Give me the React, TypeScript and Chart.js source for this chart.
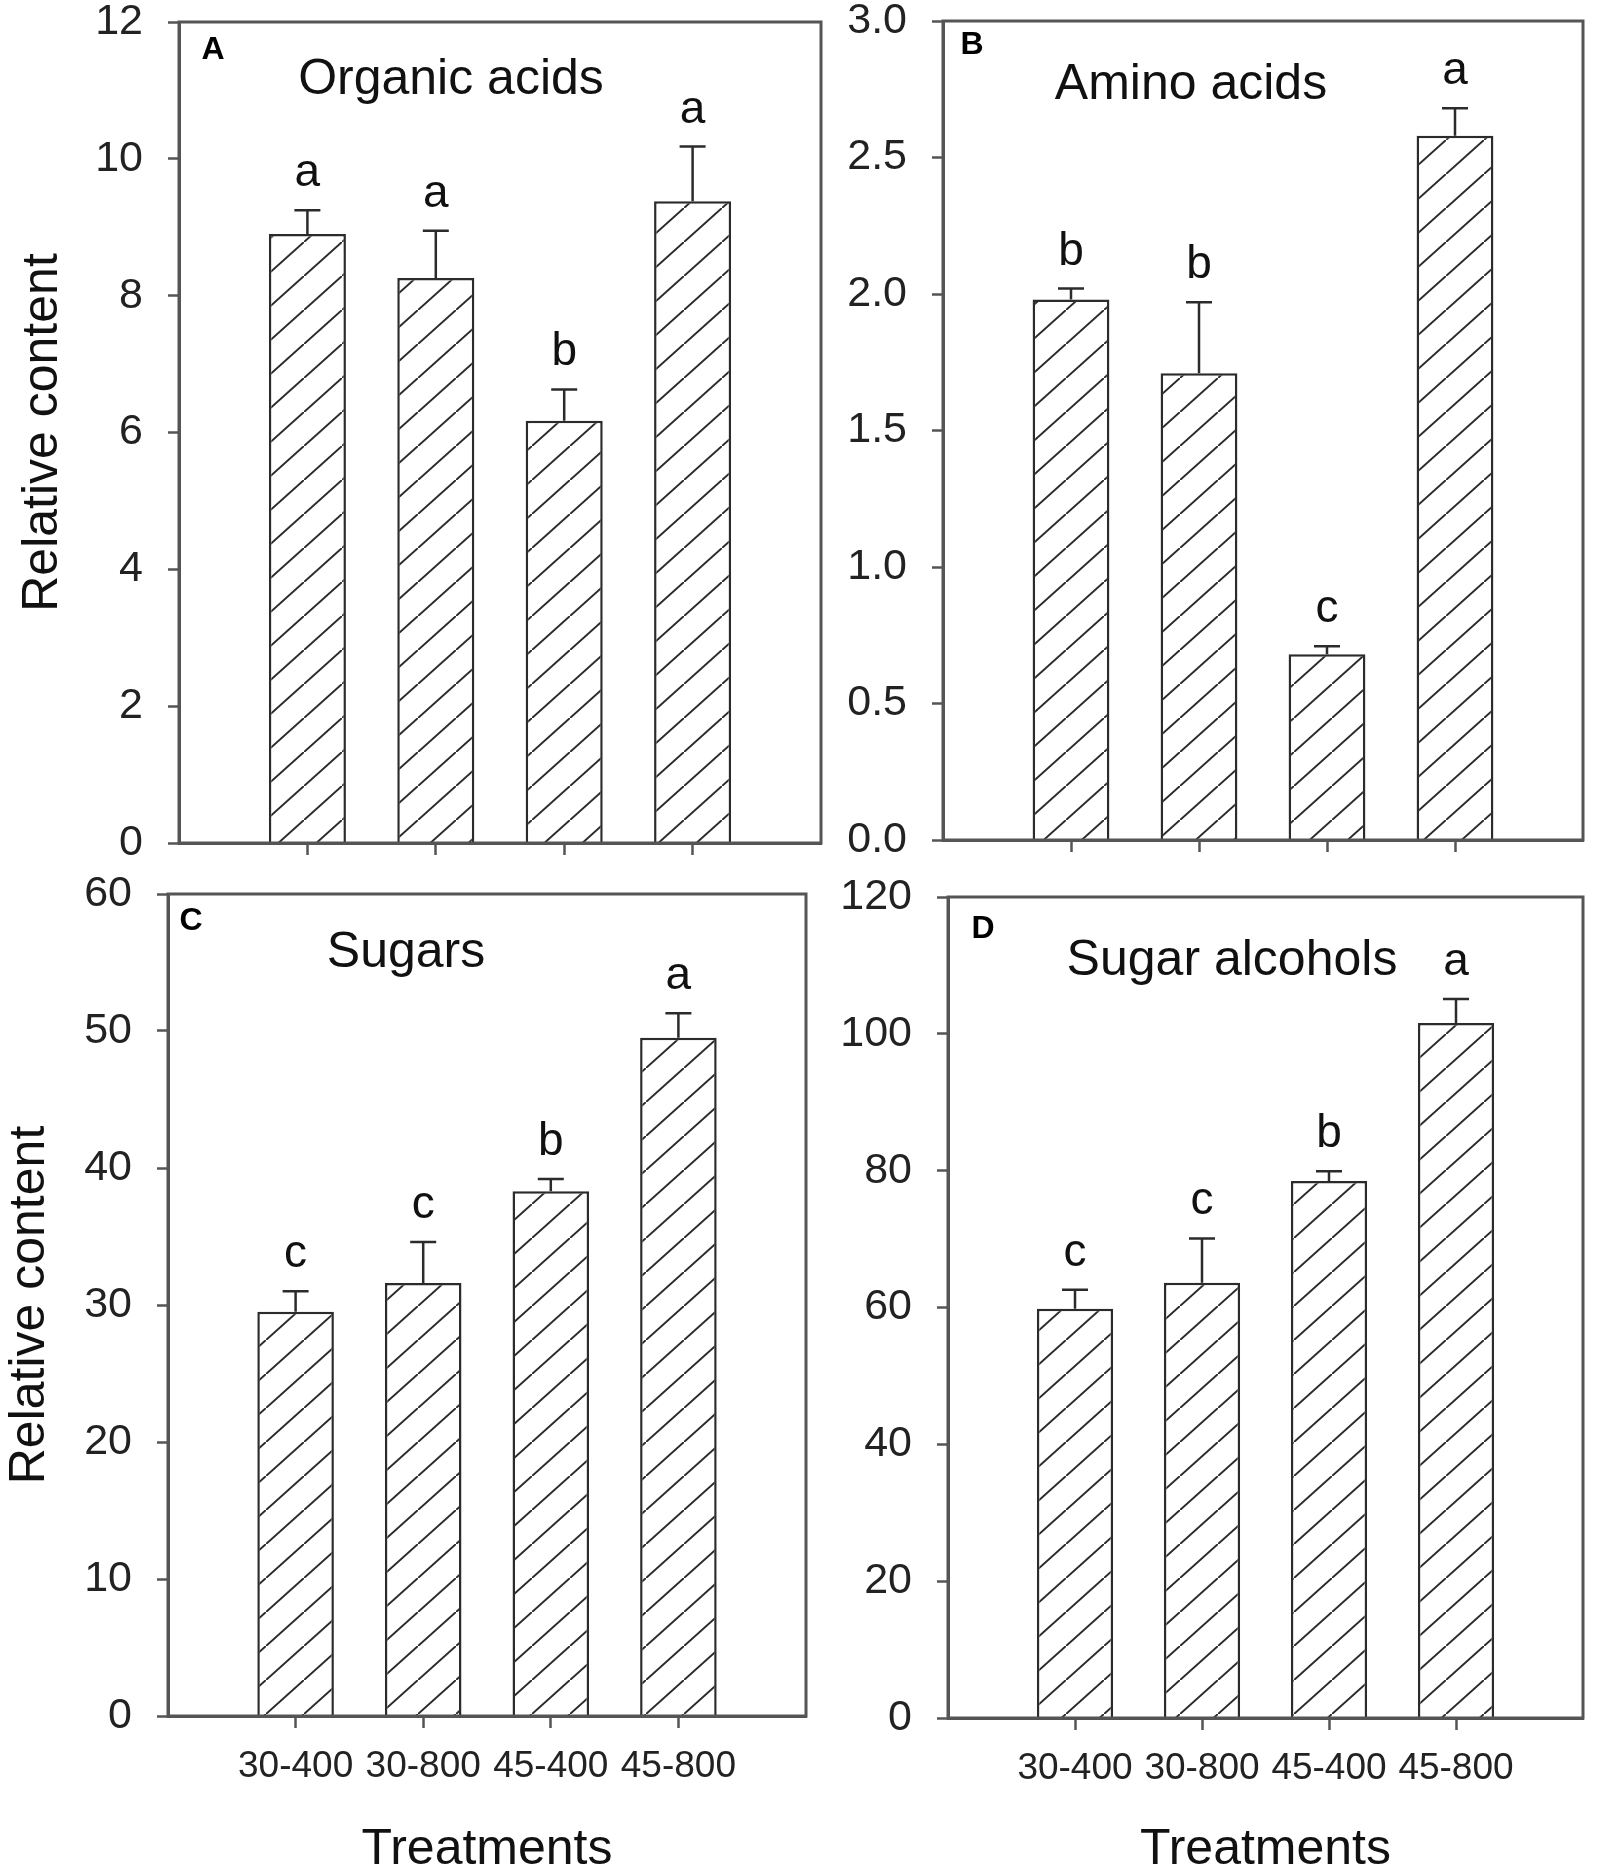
import { useEffect, useRef } from "react";
import { Chart, registerables } from "chart.js";

Chart.register(...registerables);

const FONT = "'Liberation Sans', Arial, sans-serif";
const INK = "#2b2b2b";
const AXIS = "#555555";

// treatments on the x axis
const treatments = ["30-400", "30-800", "45-400", "45-800"];

// A - organic acids
const organicAcids = [8.9, 8.26, 6.17, 9.38];
const organicAcidsSE = [0.35, 0.69, 0.46, 0.8];
const organicAcidsLetters = ["a", "a", "b", "a"];

// B - amino acids
const aminoAcids = [1.98, 1.71, 0.68, 2.58];
const aminoAcidsSE = [0.04, 0.26, 0.03, 0.1];
const aminoAcidsLetters = ["b", "b", "c", "a"];

// C - sugars
const sugars = [29.5, 31.6, 38.3, 49.5];
const sugarsSE = [1.5, 3.0, 0.9, 1.8];
const sugarsLetters = ["c", "c", "b", "a"];

// D - sugar alcohols
const sugarAlcohols = [59.8, 63.6, 78.5, 101.6];
const sugarAlcoholsSE = [2.8, 6.5, 1.4, 3.5];
const sugarAlcoholsLetters = ["c", "c", "b", "a"];

type Panel = {
  tag: string;
  title: string;
  values: number[];
  se: number[];
  letters: string[];
  yMax: number;
  yStep: number;
  decimals: number;
  xLabels: boolean;
  yTitle: boolean;
  yTitlePad: number;
  left: number;
  top: number;
  width: number;
  height: number;
  yWidth: number;
  xHeight: number;
  padTop: number;
  padRight: number;
  tagPos: [number, number];
  titlePos: [number, number];
};

// canvases start 30px above their panel so the axis label padding fits
const panels: Panel[] = [
  {
    tag: "A", title: "Organic acids",
    values: organicAcids, se: organicAcidsSE, letters: organicAcidsLetters,
    yMax: 12, yStep: 2, decimals: 0, xLabels: false, yTitle: true, yTitlePad: 18,
    left: 0, top: -30, width: 850, height: 923,
    yWidth: 179, xHeight: 50, padTop: 52, padRight: 29,
    tagPos: [34, 28], titlePos: [272, 58],
  },
  {
    tag: "B", title: "Amino acids",
    values: aminoAcids, se: aminoAcidsSE, letters: aminoAcidsLetters,
    yMax: 3, yStep: 0.5, decimals: 1, xLabels: false, yTitle: false, yTitlePad: 0,
    left: 800, top: -30, width: 800, height: 920,
    yWidth: 143, xHeight: 50, padTop: 51, padRight: 11,
    tagPos: [29, 24], titlePos: [248, 64],
  },
  {
    tag: "C", title: "Sugars",
    values: sugars, se: sugarsSE, letters: sugarsLetters,
    yMax: 60, yStep: 10, decimals: 0, xLabels: true, yTitle: true, yTitlePad: 5,
    left: 0, top: 830, width: 850, height: 1045,
    yWidth: 168, xHeight: 159, padTop: 64, padRight: 44,
    tagPos: [23, 27], titlePos: [238, 59],
  },
  {
    tag: "D", title: "Sugar alcohols",
    values: sugarAlcohols, se: sugarAlcoholsSE, letters: sugarAlcoholsLetters,
    yMax: 120, yStep: 20, decimals: 0, xLabels: true, yTitle: false, yTitlePad: 0,
    left: 800, top: 830, width: 800, height: 1045,
    yWidth: 148, xHeight: 157, padTop: 67, padRight: 7,
    tagPos: [35, 32], titlePos: [284, 64],
  },
];

function hatch(): CanvasPattern | string {
  const w = 38;
  const h = 34;
  const c = document.createElement("canvas");
  c.width = w;
  c.height = h;
  const g = c.getContext("2d");
  if (!g) return "#fff";
  g.fillStyle = "#fff";
  g.fillRect(0, 0, w, h);
  g.strokeStyle = INK;
  g.lineWidth = 2;
  g.beginPath();
  g.moveTo(-w, 2 * h);
  g.lineTo(2 * w, -h);
  g.stroke();
  return g.createPattern(c, "repeat") || "#fff";
}

function BarPanel({ p }: { p: Panel }) {
  const ref = useRef<HTMLCanvasElement>(null);

  useEffect(() => {
    if (!ref.current) return;
    const labels = ["", ...treatments, ""];
    const data = [null, ...p.values, null];

    const decor = {
      id: "decor",
      afterDatasetsDraw(chart: any) {
        const { ctx } = chart;
        const y = chart.scales.y;
        const meta = chart.getDatasetMeta(0);
        ctx.save();
        ctx.strokeStyle = INK;
        ctx.lineWidth = 2.5;
        ctx.fillStyle = "#111";
        ctx.font = `46px ${FONT}`;
        ctx.textAlign = "center";
        ctx.textBaseline = "alphabetic";
        p.values.forEach((v, i) => {
          const bar = meta.data[i + 1];
          const yv = y.getPixelForValue(v);
          const ye = y.getPixelForValue(v + p.se[i]);
          ctx.beginPath();
          ctx.moveTo(bar.x, yv);
          ctx.lineTo(bar.x, ye);
          ctx.moveTo(bar.x - 13, ye);
          ctx.lineTo(bar.x + 13, ye);
          ctx.stroke();
          ctx.fillText(p.letters[i], bar.x, ye - 24);
        });
        ctx.restore();
      },
      afterDraw(chart: any) {
        const { ctx, chartArea: a } = chart;
        ctx.save();
        ctx.strokeStyle = AXIS;
        ctx.lineWidth = 3;
        ctx.strokeRect(a.left, a.top, a.right - a.left, a.bottom - a.top);
        ctx.fillStyle = "#000";
        ctx.textBaseline = "middle";
        ctx.textAlign = "center";
        ctx.font = `bold 32px ${FONT}`;
        ctx.fillText(p.tag, a.left + p.tagPos[0], a.top + p.tagPos[1]);
        ctx.fillStyle = "#111";
        ctx.font = `50px ${FONT}`;
        ctx.fillText(p.title, a.left + p.titlePos[0], a.top + p.titlePos[1]);
        ctx.restore();
      },
    };

    const chart = new Chart(ref.current, {
      type: "bar",
      data: {
        labels,
        datasets: [
          {
            data,
            backgroundColor: hatch() as any,
            borderColor: INK,
            borderWidth: 2.5,
            categoryPercentage: 1,
            barPercentage: 0.6,
          },
        ],
      },
      options: {
        responsive: false,
        animation: false,
        layout: { padding: { left: 0, top: p.padTop, right: p.padRight, bottom: 0 } },
        plugins: { legend: { display: false }, tooltip: { enabled: false } },
        scales: {
          x: {
            offset: false,
            grid: {
              offset: false,
              drawOnChartArea: false,
              drawTicks: true,
              tickLength: 12,
              tickWidth: 2.5,
              tickColor: (c: any) => (c.index === 0 || c.index === labels.length - 1 ? "transparent" : AXIS),
            },
            border: { display: true, color: AXIS, width: 3 },
            ticks: {
              autoSkip: false,
              maxRotation: 0,
              padding: 17,
              color: "#222",
              font: { size: 37, family: FONT, lineHeight: 1.2 },
              callback: (_v: any, i: number) => (p.xLabels ? labels[i] : ""),
            },
            title: {
              display: p.xLabels,
              text: "Treatments",
              color: "#111",
              font: { size: 50, family: FONT, lineHeight: 1.0 },
              padding: { top: 0, bottom: 0 },
            },
            afterFit: (s: any) => {
              s.height = p.xHeight;
            },
          },
          y: {
            min: 0,
            max: p.yMax,
            grid: {
              drawOnChartArea: false,
              drawTicks: true,
              tickLength: 11,
              tickWidth: 2.5,
              tickColor: AXIS,
            },
            border: { display: true, color: AXIS, width: 3 },
            ticks: {
              stepSize: p.yStep,
              padding: 25,
              color: "#222",
              font: { size: 43, family: FONT, lineHeight: 0.9 },
              callback: (v: any) => Number(v).toFixed(p.decimals),
            },
            title: {
              display: p.yTitle,
              text: "Relative content",
              color: "#111",
              font: { size: 50, family: FONT, lineHeight: 1.0 },
              padding: { top: p.yTitlePad, bottom: 0 },
            },
            afterFit: (s: any) => {
              s.width = p.yWidth;
            },
          },
        },
      },
      plugins: [decor],
    });

    return () => {
      chart.destroy();
    };
  }, [p]);

  return (
    <canvas
      ref={ref}
      width={p.width}
      height={p.height}
      style={{ position: "absolute", left: p.left, top: p.top }}
    />
  );
}

export default function App() {
  return (
    <div style={{ position: "absolute", left: 0, top: 0, width: 1600, height: 1875, background: "#fff", overflow: "hidden" }}>
      {panels.map((p) => (
        <BarPanel key={p.tag} p={p} />
      ))}
    </div>
  );
}
